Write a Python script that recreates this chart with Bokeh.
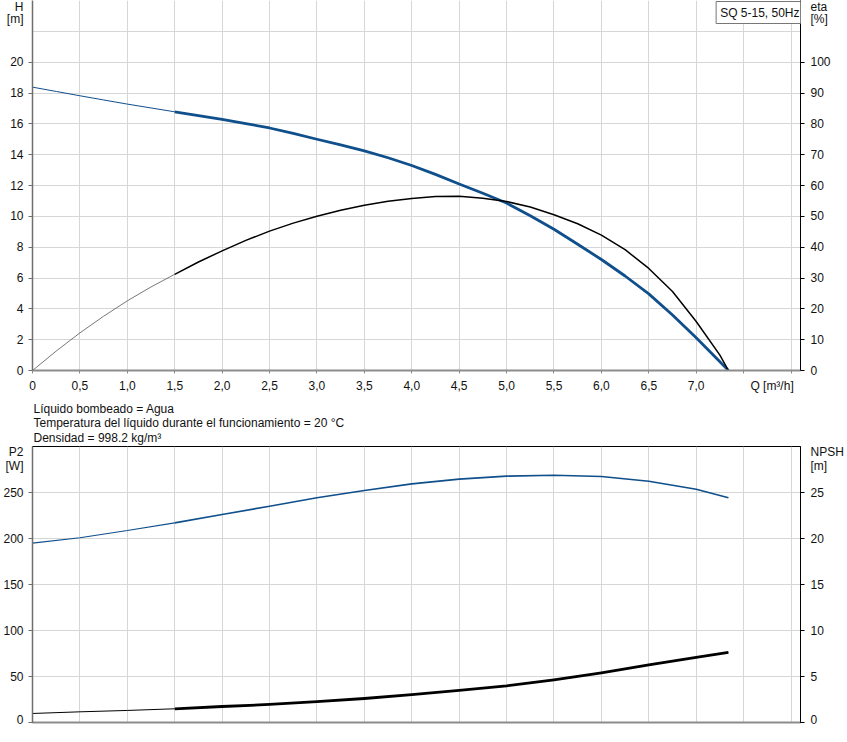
from bokeh.plotting import figure
from bokeh.models import LinearAxis, Range1d, FixedTicker, Label, Title
from bokeh.layouts import column
from bokeh.embed import file_html
from bokeh.resources import INLINE

# ---------------- data ----------------
duty_start = 1.5  # thin line before this flow, thick after

q_h = [0.0, 0.25, 0.5, 0.75, 1.0, 1.25, 1.5, 1.75, 2.0, 2.25, 2.5, 2.75, 3.0, 3.25, 3.5, 3.75,
       4.0, 4.25, 4.5, 4.75, 5.0, 5.25, 5.5, 5.75, 6.0, 6.25, 6.5, 6.75, 7.0, 7.25, 7.34]
h_m = [18.38, 18.10, 17.82, 17.55, 17.28, 17.03, 16.78, 16.54, 16.29, 16.02, 15.73, 15.38, 15.00, 14.64,
       14.25, 13.80, 13.30, 12.72, 12.10, 11.50, 10.86, 10.04, 9.16, 8.19, 7.20, 6.13, 4.97, 3.60,
       2.12, 0.57, 0.0]

q_eta = [0.0, 0.25, 0.5, 0.75, 1.0, 1.25, 1.5, 1.75, 2.0, 2.25, 2.5, 2.75, 3.0, 3.25, 3.5, 3.75,
         4.0, 4.25, 4.5, 4.75, 5.0, 5.25, 5.5, 5.75, 6.0, 6.25, 6.5, 6.75, 7.0, 7.25, 7.34]
eta_pct = [0.0, 6.3, 12.2, 17.6, 22.6, 27.1, 31.2, 35.2, 38.8, 42.2, 45.2, 47.8, 50.0, 52.0, 53.6, 54.9,
           55.8, 56.4, 56.5, 55.9, 54.8, 53.0, 50.5, 47.6, 43.9, 39.2, 33.1, 25.6, 15.9, 5.0, 0.0]

q_p = [0.0, 0.5, 1.0, 1.5, 2.0, 2.5, 3.0, 3.5, 4.0, 4.5, 5.0, 5.5, 6.0, 6.5, 7.0, 7.34]
p2_w = [195.0, 200.8, 208.7, 217.0, 226.1, 235.1, 244.2, 252.2, 259.4, 264.5, 267.8, 268.8, 267.4, 262.3, 253.6, 244.2]
npsh_m = [0.98, 1.16, 1.31, 1.49, 1.74, 1.96, 2.28, 2.61, 3.04, 3.50, 3.99, 4.64, 5.40, 6.27, 7.07, 7.61]

grid_x = [0.0, 0.5, 1.0, 1.5, 2.0, 2.5, 3.0, 3.5, 4.0, 4.5, 5.0, 5.5, 6.0, 6.5, 7.0, 7.5, 8.0]
x_ticks = [0.0, 0.5, 1.0, 1.5, 2.0, 2.5, 3.0, 3.5, 4.0, 4.5, 5.0, 5.5, 6.0, 6.5, 7.0]
x_tick_labels = ["0", "0,5", "1,0", "1,5", "2,0", "2,5", "3,0", "3,5", "4,0", "4,5",
                 "5,0", "5,5", "6,0", "6,5", "7,0"]
x_title = "Q [m³/h]"
x_title_pos = 7.8

h_ticks = [0, 2, 4, 6, 8, 10, 12, 14, 16, 18, 20]
h_grid = [0, 2, 4, 6, 8, 10, 12, 14, 16, 18, 20, 22]
h_title = ["H", "[m]"]
h_title_pos = [23.6, 22.8]
eta_ticks = [0, 10, 20, 30, 40, 50, 60, 70, 80, 90, 100]
eta_title = ["eta", "[%]"]
eta_title_pos = [118.0, 114.0]

p2_ticks = [0, 50, 100, 150, 200, 250]
p2_title = ["P2", "[W]"]
p2_title_pos = [293.7, 278.8]
npsh_ticks = [0, 5, 10, 15, 20, 25]
npsh_title = ["NPSH", "[m]"]
npsh_title_pos = [29.37, 27.88]

info_lines = ["Líquido bombeado = Agua",
              "Temperatura del líquido durante el funcionamiento = 20 °C",
              "Densidad = 998.2 kg/m³"]
pump_name = "SQ 5-15, 50Hz"

# ---------------- styling ----------------
FONT = "Liberation Sans"
FS = "12px"
BLUE = "#0f4f8c"
GRID = "#d6d6d6"
TXT = "#111111"
X_MAX = 8.1
FW = 768


def style_axis(ax, color, width, major, minor, labels=None, title=None, title_pos=None,
               tick_out=4, standoff=6):
    ticks = list(major) + (list(title_pos) if title_pos else [])
    ax.ticker = FixedTicker(ticks=ticks, minor_ticks=list(minor))
    overrides = {}
    if labels is not None:
        overrides.update({t: s for t, s in zip(major, labels)})
    if title:
        overrides.update({t: s for t, s in zip(title_pos, title)})
    if overrides:
        ax.major_label_overrides = overrides
    ax.axis_line_color = color
    ax.axis_line_width = width
    ax.major_tick_out = 0
    ax.major_tick_in = 0
    ax.major_tick_line_color = None
    ax.minor_tick_line_color = color
    ax.minor_tick_out = tick_out
    ax.minor_tick_in = 0
    ax.major_label_text_font = FONT
    ax.major_label_text_font_size = FS
    ax.major_label_text_color = TXT
    ax.major_label_standoff = standoff


def base_fig(y_max, frame_h, min_top, min_bottom):
    p = figure(frame_width=FW, frame_height=frame_h,
               x_range=Range1d(0, X_MAX), y_range=Range1d(0, y_max),
               output_backend="svg", toolbar_location=None,
               min_border_left=30, min_border_right=38,
               min_border_top=min_top, min_border_bottom=min_bottom)
    p.xgrid.ticker = FixedTicker(ticks=grid_x)
    p.xgrid.grid_line_color = GRID
    p.ygrid.grid_line_color = GRID
    p.background_fill_color = "white"
    p.border_fill_color = "white"
    return p


# ---------------- top: H / eta ----------------
p1 = base_fig(24, 370, 0, 28)
p1.outline_line_color = None
p1.ygrid.ticker = FixedTicker(ticks=h_grid)
style_axis(p1.xaxis[0], "#8c8c8c", 2, x_ticks + [x_title_pos], grid_x,
           labels=x_tick_labels + [x_title], tick_out=3, standoff=5)
style_axis(p1.yaxis[0], "#6e6e6e", 1.5, h_ticks, h_ticks,
           title=h_title, title_pos=h_title_pos, standoff=5)

p1.extra_y_ranges = {"eta": Range1d(0, 120)}
ax_eta = LinearAxis(y_range_name="eta")
style_axis(ax_eta, "#000000", 1, eta_ticks, eta_ticks,
           title=eta_title, title_pos=eta_title_pos)
p1.add_layout(ax_eta, "right")

i_h = q_h.index(duty_start)
p1.line(q_h[: i_h + 1], h_m[: i_h + 1], line_color=BLUE, line_width=1)
p1.line(q_h[i_h:], h_m[i_h:], line_color=BLUE, line_width=2.8, line_join="round")
i_e = q_eta.index(duty_start)
p1.line(q_eta[: i_e + 1], eta_pct[: i_e + 1], line_color="#555555", line_width=0.8, y_range_name="eta")
p1.line(q_eta[i_e:], eta_pct[i_e:], line_color="#000000", line_width=1.5, y_range_name="eta",
        line_join="round")

p1.add_layout(Label(x=X_MAX, y=24, x_offset=3, y_offset=-1, text=pump_name,
                    text_align="right", text_baseline="top",
                    text_font=FONT, text_font_size=FS, text_color=TXT,
                    border_line_color="#777777", border_line_width=1,
                    background_fill_color="white", padding=4))

# ---------------- bottom: P2 / NPSH ----------------
p2 = base_fig(300, 276, 48, 4)
p2.outline_line_color = "#000000"
p2.ygrid.ticker = FixedTicker(ticks=p2_ticks)
style_axis(p2.xaxis[0], "#8c8c8c", 2, [], [], tick_out=0, standoff=0)
style_axis(p2.yaxis[0], "#6e6e6e", 1.5, p2_ticks, p2_ticks,
           title=p2_title, title_pos=p2_title_pos, standoff=5)

p2.extra_y_ranges = {"npsh": Range1d(0, 30)}
ax_npsh = LinearAxis(y_range_name="npsh")
style_axis(ax_npsh, "#000000", 1, npsh_ticks, npsh_ticks,
           title=npsh_title, title_pos=npsh_title_pos)
p2.add_layout(ax_npsh, "right")

i_p = q_p.index(duty_start)
p2.line(q_p[: i_p + 1], p2_w[: i_p + 1], line_color=BLUE, line_width=1.2)
p2.line(q_p[i_p:], p2_w[i_p:], line_color=BLUE, line_width=1.6, line_join="round")
p2.line(q_p[: i_p + 1], npsh_m[: i_p + 1], line_color="#000000", line_width=1, y_range_name="npsh")
p2.line(q_p[i_p:], npsh_m[i_p:], line_color="#000000", line_width=2.8, y_range_name="npsh",
        line_join="round")

p2.add_layout(Title(text="\n".join(info_lines), align="left", text_font=FONT, text_font_size=FS,
                    text_font_style="normal", text_color=TXT, text_line_height=1.04,
                    standoff=3, offset=1), "above")

layout = column(p1, p2, spacing=0)
open("out.html", "w").write(file_html(layout, INLINE))
